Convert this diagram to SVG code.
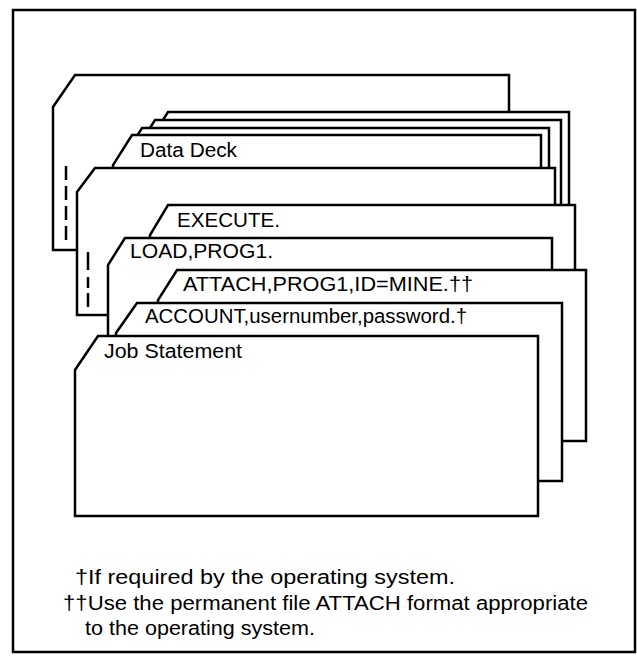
<svg xmlns="http://www.w3.org/2000/svg" width="637" height="656" viewBox="0 0 637 656">
<style>
.card{fill:#fff;stroke:#000;stroke-width:2.5;stroke-linejoin:miter}
.dash{stroke:#000;stroke-width:2.5;fill:none}
.lbl{font-family:"Liberation Sans",Arial,sans-serif;font-size:20px;fill:#000}
.note{font-family:"Liberation Sans",Arial,sans-serif;font-size:20px;fill:#000}
</style>
<rect x="13" y="10" width="622" height="642" fill="#fff" stroke="#000" stroke-width="2.5"/>
<g id="card-back">
<path class="card" d="M75,75 H509 V250 H53 V107 Z"/>
</g>
<g id="connectors">
<path class="dash" d="M66,166 V180 M66,186 V200 M66,206 V220 M66,226 V240"/>
</g>
<g id="deck-card-1"><path class="card" d="M168,112 H569 V230 H149 V142 Z"/></g>
<g id="deck-card-2"><path class="card" d="M155,120 H561 V230 H136 V150 Z"/></g>
<g id="deck-card-3"><path class="card" d="M142,128 H549 V230 H123 V158 Z"/></g>
<g id="data-deck">
<path class="card" d="M132,135 H541 V230 H113 V165 Z"/>
<text class="lbl" x="140" y="157" textLength="97" lengthAdjust="spacingAndGlyphs">Data Deck</text>
</g>
<g id="card-middle">
<path class="card" d="M95,168 H555 V315 H77 V192 Z"/>
<path class="dash" d="M88,252 V270 M88,277 V288 M88,293 V307"/>
</g>
<g id="execute">
<path class="card" d="M168,205 H575 V420 H150 V235 Z"/>
<text class="lbl" x="177" y="227" textLength="103" lengthAdjust="spacingAndGlyphs">EXECUTE.</text>
</g>
<g id="load">
<path class="card" d="M125,238 H552 V420 H108 V265 Z"/>
<text class="lbl" x="130" y="258" textLength="143" lengthAdjust="spacingAndGlyphs">LOAD,PROG1.</text>
</g>
<g id="attach">
<path class="card" d="M177,270 H586 V441 H158 V300 Z"/>
<text class="lbl" x="183" y="291" textLength="290" lengthAdjust="spacingAndGlyphs">ATTACH,PROG1,ID=MINE.††</text>
</g>
<g id="account">
<path class="card" d="M137,303 H562 V481 H116 V333 Z"/>
<text class="lbl" x="145" y="323" textLength="322" lengthAdjust="spacingAndGlyphs">ACCOUNT,usernumber,password.†</text>
</g>
<g id="job">
<path class="card" d="M98,336 H538 V516 H75 V370 Z"/>
<text class="lbl" x="104" y="358" textLength="138" lengthAdjust="spacingAndGlyphs">Job Statement</text>
</g>
<g id="notes">
<text class="note" x="75" y="584" textLength="380" lengthAdjust="spacingAndGlyphs">†If required by the operating system.</text>
<text class="note" x="63" y="610" textLength="525" lengthAdjust="spacingAndGlyphs">††Use the permanent file ATTACH format appropriate</text>
<text class="note" x="85" y="635" textLength="230" lengthAdjust="spacingAndGlyphs">to the operating system.</text>
</g>
</svg>
